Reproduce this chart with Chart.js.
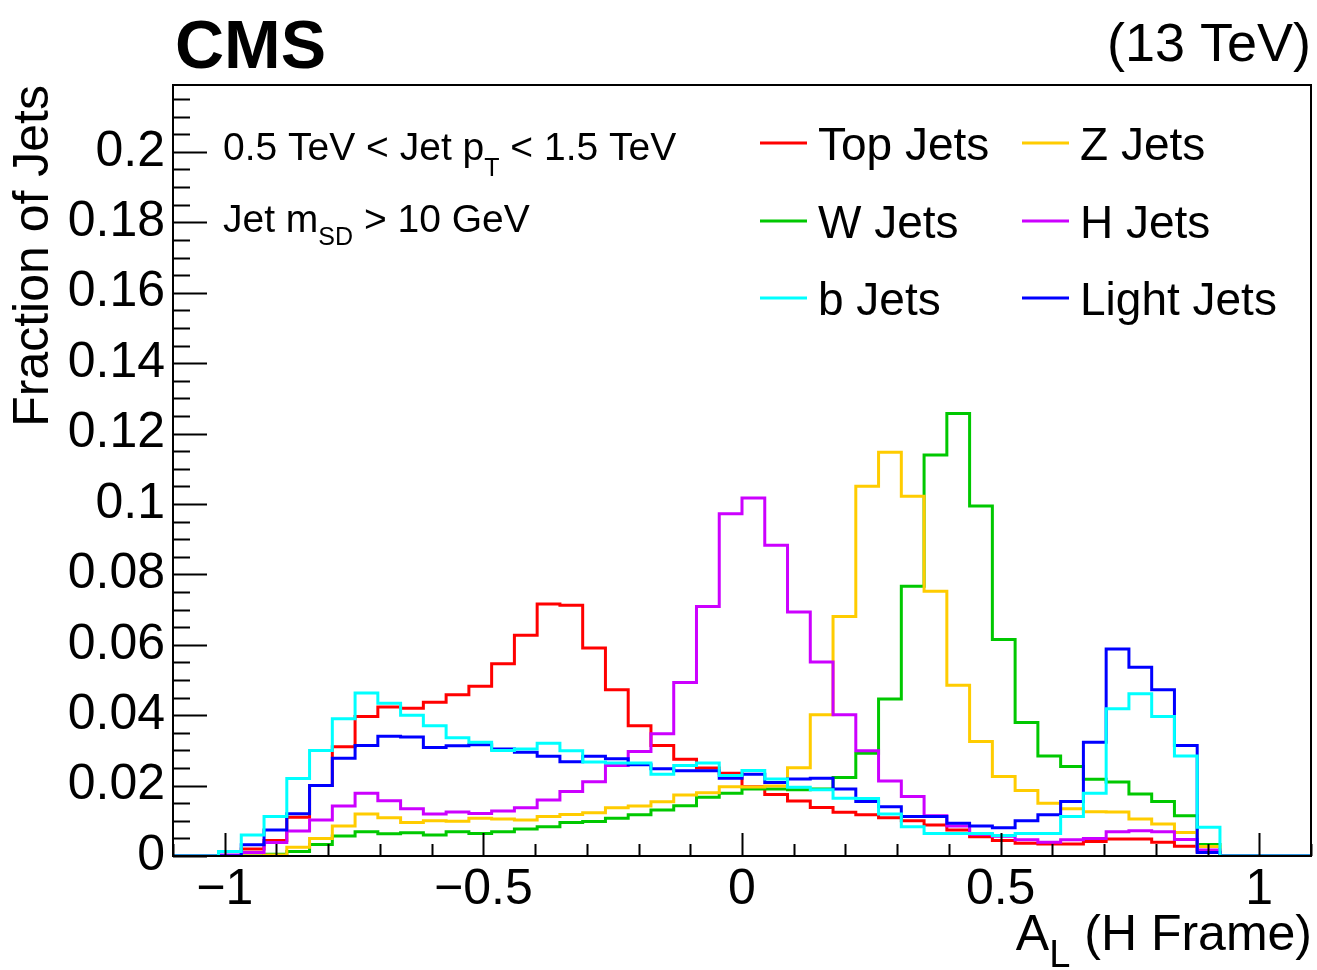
<!DOCTYPE html>
<html>
<head>
<meta charset="utf-8">
<title>A_L (H Frame)</title>
<script src="https://cdn.jsdelivr.net/npm/chart.js@4.4.0/dist/chart.umd.min.js"></script>
<style>
  html, body { margin: 0; padding: 0; background: #fff; }
  canvas { display: block; }
</style>
</head>
<body>
<canvas id="chart" width="1317" height="970"></canvas>
<script>
// ===== binning: 50 bins from -1.1 to 1.1 =====
const xMin = -1.1;
const xMax = 1.1;
const nBins = 50;
const binWidth = (xMax - xMin) / nBins;

// ===== bin contents (fraction of jets) =====
const topJets = [0, 0, 0, 0.002, 0.0044, 0.011, 0.020, 0.031, 0.0396, 0.0423,
  0.042, 0.0437, 0.0458, 0.0482, 0.0546, 0.0627, 0.0716, 0.0712, 0.0591, 0.0472,
  0.037, 0.0314, 0.0275, 0.025, 0.0235, 0.0197, 0.0175, 0.0156, 0.0138, 0.0124,
  0.0117, 0.0109, 0.010, 0.0088, 0.0074, 0.0055, 0.0044, 0.0036, 0.0034, 0.0034,
  0.0041, 0.0048, 0.0048, 0.0039, 0.0028, 0.0012, 0, 0, 0, 0];
const wJets = [0, 0, 0, 0, 0.0005, 0.0013, 0.0033, 0.0057, 0.0069, 0.0063,
  0.0066, 0.006, 0.0069, 0.0064, 0.0069, 0.0077, 0.0083, 0.0095, 0.0098, 0.0107,
  0.0117, 0.0131, 0.0143, 0.0167, 0.0178, 0.019, 0.019, 0.0188, 0.019, 0.0223,
  0.0292, 0.0446, 0.0766, 0.1139, 0.1257, 0.0994, 0.0615, 0.0379, 0.0284, 0.0254,
  0.0218, 0.021, 0.0176, 0.0155, 0.0114, 0.0033, 0, 0, 0, 0];
const zJets = [0, 0, 0, 0, 0.0003, 0.0025, 0.005, 0.0085, 0.0119, 0.0109,
  0.0095, 0.010, 0.0099, 0.0107, 0.0105, 0.0102, 0.0112, 0.0118, 0.0123, 0.0137,
  0.0142, 0.0154, 0.0173, 0.018, 0.0197, 0.0196, 0.0199, 0.0251, 0.0401, 0.068,
  0.105, 0.1147, 0.1022, 0.0752, 0.0485, 0.0325, 0.0226, 0.0186, 0.015, 0.0134,
  0.0126, 0.0125, 0.0105, 0.0091, 0.0067, 0.0027, 0, 0, 0, 0];
const hJets = [0, 0, 0.0003, 0.001, 0.0038, 0.0071, 0.0102, 0.0142, 0.0178, 0.0157,
  0.0134, 0.0119, 0.0125, 0.0121, 0.0128, 0.0137, 0.0159, 0.0183, 0.0211, 0.0257,
  0.0297, 0.0347, 0.0493, 0.0709, 0.0972, 0.1017, 0.0883, 0.0693, 0.0551, 0.0401,
  0.0299, 0.0213, 0.0169, 0.0114, 0.0085, 0.0062, 0.0056, 0.0046, 0.0039, 0.0046,
  0.005, 0.0069, 0.0072, 0.0069, 0.0047, 0.0017, 0, 0, 0, 0];
const bJets = [0, 0, 0.0013, 0.006, 0.0112, 0.022, 0.030, 0.039, 0.0463, 0.0434,
  0.040, 0.037, 0.0336, 0.0323, 0.030, 0.0304, 0.032, 0.0299, 0.0267, 0.0264,
  0.0264, 0.0232, 0.0257, 0.0264, 0.0229, 0.0243, 0.0219, 0.0195, 0.0188, 0.0164,
  0.0163, 0.0119, 0.0083, 0.0064, 0.0064, 0.0064, 0.0058, 0.0064, 0.0064, 0.0112,
  0.0178, 0.0418, 0.0461, 0.0396, 0.0284, 0.0082, 0, 0, 0, 0];
const lightJets = [0, 0, 0, 0.0032, 0.0074, 0.012, 0.020, 0.0278, 0.0314, 0.034,
  0.0338, 0.0308, 0.0313, 0.0316, 0.0304, 0.0295, 0.0283, 0.0268, 0.0283, 0.0276,
  0.0259, 0.0248, 0.0242, 0.0242, 0.0221, 0.0232, 0.0209, 0.0219, 0.0221, 0.019,
  0.0155, 0.014, 0.0112, 0.0112, 0.0093, 0.0085, 0.008, 0.010, 0.0117, 0.0155,
  0.0323, 0.0588, 0.0536, 0.0472, 0.0314, 0.001, 0, 0, 0, 0];

// ===== axis ticks =====
const xTickValues = [-1, -0.5, 0, 0.5, 1];
const xTickLabels = ['\u22121', '\u22120.5', '0', '0.5', '1'];
const yTickValues = [0, 0.02, 0.04, 0.06, 0.08, 0.1, 0.12, 0.14, 0.16, 0.18, 0.2];
const yTickLabels = ['0', '0.02', '0.04', '0.06', '0.08', '0.1', '0.12', '0.14', '0.16', '0.18', '0.2'];
const yMax = 0.219;

const FONT = "'Liberation Sans', Arial, Helvetica, sans-serif";
Chart.defaults.font.family = FONT;
Chart.defaults.color = '#000';

// legend order is row by row (two columns); z = drawing order (0 on top)
const series = [
  { label: 'Top Jets',   values: topJets,   color: '#ff0000', z: 5 },
  { label: 'Z Jets',     values: zJets,     color: '#ffcc00', z: 3 },
  { label: 'W Jets',     values: wJets,     color: '#00c800', z: 4 },
  { label: 'H Jets',     values: hJets,     color: '#cc00ff', z: 2 },
  { label: 'b Jets',     values: bJets,     color: '#00ffff', z: 0 },
  { label: 'Light Jets', values: lightJets, color: '#0000ff', z: 1 }
];

// histogram outline: one point per lower bin edge, plus the upper edge of the last bin
function histPoints(values) {
  const pts = values.map((v, i) => ({ x: xMin + i * binWidth, y: v }));
  pts.push({ x: xMax, y: values[values.length - 1] });
  return pts;
}

// ===== ROOT-style frame + inward ticks =====
const rootFrame = {
  id: 'rootFrame',
  afterDraw(chart) {
    const { ctx, chartArea: a, scales: { x, y } } = chart;
    ctx.save();
    ctx.strokeStyle = '#000';
    ctx.lineWidth = 2;
    ctx.beginPath();
    // y ticks: major every 0.02, minor every 0.005
    for (let k = 0; k * 0.005 <= yMax; k++) {
      const py = Math.round(y.getPixelForValue(k * 0.005)) + 0.5;
      const len = k % 4 === 0 ? 34 : 17;
      ctx.moveTo(a.left, py);
      ctx.lineTo(a.left + len, py);
    }
    // x ticks: major every 0.5, minor every 0.1
    for (let k = -11; k <= 11; k++) {
      const px = Math.round(x.getPixelForValue(k / 10)) + 0.5;
      const len = k % 5 === 0 ? 23 : 12;
      ctx.moveTo(px, a.bottom);
      ctx.lineTo(px, a.bottom - len);
    }
    ctx.stroke();
    ctx.strokeRect(a.left, a.top, a.right - a.left, a.bottom - a.top);
    ctx.restore();
  }
};

// text made of runs, some of them subscripts
function drawRuns(ctx, x, y, runs, align) {
  const widths = runs.map(r => {
    ctx.font = (r.bold ? 'bold ' : '') + r.size + 'px ' + FONT;
    return ctx.measureText(r.t).width;
  });
  const total = widths.reduce((s, w) => s + w, 0);
  let cx = align === 'right' ? x - total : x;
  runs.forEach((r, i) => {
    ctx.font = (r.bold ? 'bold ' : '') + r.size + 'px ' + FONT;
    ctx.fillText(r.t, cx, y + (r.dy || 0));
    cx += widths[i];
  });
}

const rootText = {
  id: 'rootText',
  afterDraw(chart) {
    const ctx = chart.ctx;
    ctx.save();
    ctx.fillStyle = '#000';
    ctx.textAlign = 'left';
    ctx.textBaseline = 'alphabetic';

    drawRuns(ctx, 175, 68, [{ t: 'CMS', size: 68, bold: true }]);
    drawRuns(ctx, 1311, 61, [{ t: '(13 TeV)', size: 54 }], 'right');

    drawRuns(ctx, 223, 160, [
      { t: '0.5 TeV < Jet p', size: 39 },
      { t: 'T', size: 25, dy: 16 },
      { t: ' < 1.5 TeV', size: 39 }
    ]);
    drawRuns(ctx, 223, 232, [
      { t: 'Jet m', size: 39 },
      { t: 'SD', size: 25, dy: 13 },
      { t: ' > 10 GeV', size: 39 }
    ]);

    // x-axis title, right aligned to the axis end
    drawRuns(ctx, 1312, 950, [
      { t: 'A', size: 50 },
      { t: 'L', size: 38, dy: 17 },
      { t: ' (H Frame)', size: 50 }
    ], 'right');

    // legend, 2 columns x 3 rows
    const colX = [760, 1022];
    const rowY = [143, 221, 298];
    series.forEach((s, i) => {
      const cx = colX[i % 2];
      const cy = rowY[Math.floor(i / 2)];
      ctx.strokeStyle = s.color;
      ctx.lineWidth = 3;
      ctx.beginPath();
      ctx.moveTo(cx, cy);
      ctx.lineTo(cx + 47, cy);
      ctx.stroke();
      drawRuns(ctx, cx + 58, cy + 17, [{ t: s.label, size: 46 }]);
    });
    ctx.restore();
  }
};

new Chart(document.getElementById('chart'), {
  type: 'line',
  data: {
    datasets: series.map(s => ({
      label: s.label,
      data: histPoints(s.values),
      borderColor: s.color,
      backgroundColor: s.color,
      borderWidth: 3,
      stepped: 'before',
      pointRadius: 0,
      fill: false,
      order: s.z
    }))
  },
  options: {
    responsive: false,
    animation: false,
    layout: { padding: { left: 0, top: 85, right: 6, bottom: 0 } },
    plugins: { legend: { display: false }, tooltip: { enabled: false } },
    scales: {
      x: {
        type: 'linear',
        min: xMin,
        max: xMax,
        grid: { display: false, drawTicks: false },
        border: { display: false },
        afterBuildTicks: (scale) => { scale.ticks = xTickValues.map(v => ({ value: v })); },
        afterFit: (scale) => { scale.height = 114; },
        ticks: {
          autoSkip: false,
          maxRotation: 0,
          padding: 4,
          font: { size: 50 },
          color: '#000',
          callback: (v, i) => xTickLabels[i]
        }
      },
      y: {
        type: 'linear',
        min: 0,
        max: yMax,
        grid: { display: false, drawTicks: false },
        border: { display: false },
        afterBuildTicks: (scale) => { scale.ticks = yTickValues.map(v => ({ value: v })); },
        afterFit: (scale) => { scale.width = 173; },
        ticks: {
          autoSkip: false,
          padding: 8,
          font: { size: 50 },
          color: '#000',
          callback: (v, i) => yTickLabels[i]
        },
        title: {
          display: true,
          text: 'Fraction of Jets',
          align: 'end',
          color: '#000',
          font: { size: 50 },
          padding: { top: 4, bottom: 0 }
        }
      }
    }
  },
  plugins: [rootFrame, rootText]
});
</script>
</body>
</html>
